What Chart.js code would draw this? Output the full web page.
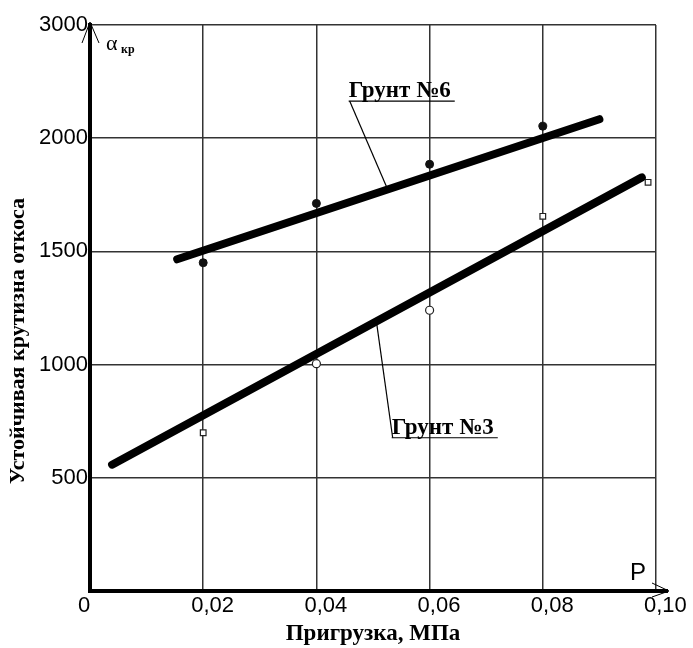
<!DOCTYPE html>
<html>
<head>
<meta charset="utf-8">
<script src="https://cdn.jsdelivr.net/npm/chart.js@4"></script>
<style>
  html, body { margin: 0; padding: 0; background: #fff; }
  #wrap { width: 693px; height: 648px; }
</style>
</head>
<body>
<div id="wrap"><canvas id="chart" width="693" height="648"></canvas></div>
<script>
// Данные
const xTicks = [0, 0.02, 0.04, 0.06, 0.08, 0.10];
const xTickLabels = ["0", "0,02", "0,04", "0,06", "0,08", "0,10"];
const yTicks = [0, 500, 1000, 1500, 2000, 2500];
const yTickLabels = ["", "500", "1000", "1500", "2000", "3000"];

// Грунт №6 – точки опыта (залитые кружки)
const soil6X = [0.02, 0.04, 0.06, 0.08];
const soil6Y = [1450, 1712, 1885, 2053];
// Грунт №3 – точки опыта (пустые маркеры)
const soil3X = [0.02, 0.04, 0.06, 0.08, 0.0986];
const soil3Y = [699, 1004, 1240, 1655, 1805];
const soil3Markers = ["rect", "circle", "circle", "rect", "rect"];

// Аппроксимирующие прямые
const trend6X = [0.0154, 0.09];
const trend6Y = [1465, 2084];
const trend3X = [0.0039, 0.0975];
const trend3Y = [558, 1827];

// Подписи с выносками: [текст, x подписи, y подписи, x на прямой, y на прямой]
const callouts = [
  ["Грунт №6", 0.0457, 2164, 0.0526, 1773],
  ["Грунт №3", 0.0533, 677, 0.0506, 1191],
];

const toPoints = (xs, ys) => xs.map((x, i) => ({ x: x, y: ys[i] }));

// Плагин: стрелки осей, подписи α и P, выноски, заголовок оси Y
const extras = {
  id: "extras",
  afterDraw(chart) {
    const ctx = chart.ctx;
    const xs = chart.scales.x;
    const ys = chart.scales.y;
    const a = chart.chartArea;
    ctx.save();

    // продолжение оси X и стрелка
    ctx.strokeStyle = "#000";
    ctx.lineWidth = 4;
    ctx.beginPath();
    ctx.moveTo(a.right, a.bottom);
    ctx.lineTo(a.right + 12, a.bottom);
    ctx.stroke();
    ctx.lineWidth = 1;
    ctx.beginPath();
    ctx.moveTo(a.right - 4, a.bottom - 8);
    ctx.lineTo(a.right + 13, a.bottom);
    ctx.lineTo(a.right - 4, a.bottom + 6);
    ctx.stroke();

    // стрелка оси Y
    ctx.beginPath();
    ctx.moveTo(a.left - 8, a.top + 18);
    ctx.lineTo(a.left, a.top - 3);
    ctx.lineTo(a.left + 9, a.top + 18);
    ctx.stroke();

    // α кр
    ctx.fillStyle = "#000";
    ctx.textBaseline = "alphabetic";
    ctx.textAlign = "left";
    ctx.font = "22px 'Liberation Serif'";
    ctx.fillText("α", a.left + 16, a.top + 25);
    ctx.font = "bold 12px 'Liberation Serif'";
    ctx.fillText("кр", a.left + 31, a.top + 28);

    // P
    ctx.font = "24px 'Liberation Sans'";
    ctx.fillText("P", a.right - 26, a.bottom - 11);

    // выноски
    ctx.font = "bold 23px 'Liberation Serif'";
    callouts.forEach(([text, lx, ly, px, py]) => {
      const x0 = xs.getPixelForValue(lx);
      const y0 = ys.getPixelForValue(ly);
      const x1 = xs.getPixelForValue(px);
      const y1 = ys.getPixelForValue(py);
      const w = ctx.measureText(text).width;
      ctx.fillText(text, x0, y0 - 4);
      ctx.lineWidth = 1.2;
      ctx.beginPath();
      ctx.moveTo(x0, y0);
      ctx.lineTo(x0 + w + 4, y0);
      ctx.stroke();
      ctx.beginPath();
      ctx.moveTo(x0 + 1, y0);
      ctx.lineTo(x1, y1);
      ctx.stroke();
    });

    // заголовок оси Y
    ctx.font = "bold 22px 'Liberation Serif'";
    ctx.textAlign = "center";
    ctx.textBaseline = "middle";
    ctx.translate(18, 341);
    ctx.rotate(-Math.PI / 2);
    ctx.fillText("Устойчивая крутизна откоса", 0, 0);

    ctx.restore();
  },
};

new Chart(document.getElementById("chart"), {
  type: "scatter",
  data: {
    datasets: [
      {
        label: "Грунт №6 (прямая)",
        data: toPoints(trend6X, trend6Y),
        showLine: true,
        borderColor: "#000",
        borderWidth: 8,
        borderCapStyle: "round",
        pointRadius: 0,
      },
      {
        label: "Грунт №3 (прямая)",
        data: toPoints(trend3X, trend3Y),
        showLine: true,
        borderColor: "#000",
        borderWidth: 8,
        borderCapStyle: "round",
        pointRadius: 0,
      },
      {
        label: "Грунт №6",
        data: toPoints(soil6X, soil6Y),
        pointStyle: "circle",
        pointRadius: 4,
        backgroundColor: "#111",
        borderColor: "#111",
        borderWidth: 1,
      },
      {
        label: "Грунт №3",
        data: toPoints(soil3X, soil3Y),
        pointStyle: soil3Markers,
        pointRadius: 4,
        backgroundColor: "#fff",
        borderColor: "#222",
        borderWidth: 1.2,
      },
    ],
  },
  options: {
    responsive: false,
    animation: false,
    layout: { padding: { left: 0, top: 25, right: 37, bottom: 0 } },
    plugins: {
      legend: { display: false },
      tooltip: { enabled: false },
    },
    scales: {
      x: {
        type: "linear",
        min: 0,
        max: 0.1,
        afterFit: (s) => { s.height = 57; s.paddingLeft = 0; s.paddingRight = 0; },
        afterBuildTicks: (s) => { s.ticks = xTicks.map((v) => ({ value: v })); },
        ticks: {
          callback: (v) => xTickLabels[xTicks.findIndex((t) => Math.abs(t - v) < 1e-9)],
          color: "#000",
          font: { family: "'Liberation Sans'", size: 22 },
          align: "start",
          labelOffset: -12,
          padding: 2,
          maxRotation: 0,
        },
        grid: { color: "#333", lineWidth: 1.5, drawTicks: false },
        border: { color: "#000", width: 4 },
        title: {
          display: true,
          text: "Пригрузка, МПа",
          color: "#000",
          font: { family: "'Liberation Serif'", size: 23, weight: "bold" },
          padding: { top: 0, bottom: 0 },
        },
      },
      y: {
        type: "linear",
        min: 0,
        max: 2500,
        afterFit: (s) => { s.width = 90; s.paddingTop = 0; s.paddingBottom = 0; },
        afterBuildTicks: (s) => { s.ticks = yTicks.map((v) => ({ value: v })); },
        ticks: {
          callback: (v) => yTickLabels[yTicks.indexOf(v)],
          color: "#000",
          font: { family: "'Liberation Sans'", size: 22 },
          padding: 2,
        },
        grid: { color: "#333", lineWidth: 1.5, drawTicks: false },
        border: { color: "#000", width: 4 },
      },
    },
  },
  plugins: [extras],
});
</script>
</body>
</html>
